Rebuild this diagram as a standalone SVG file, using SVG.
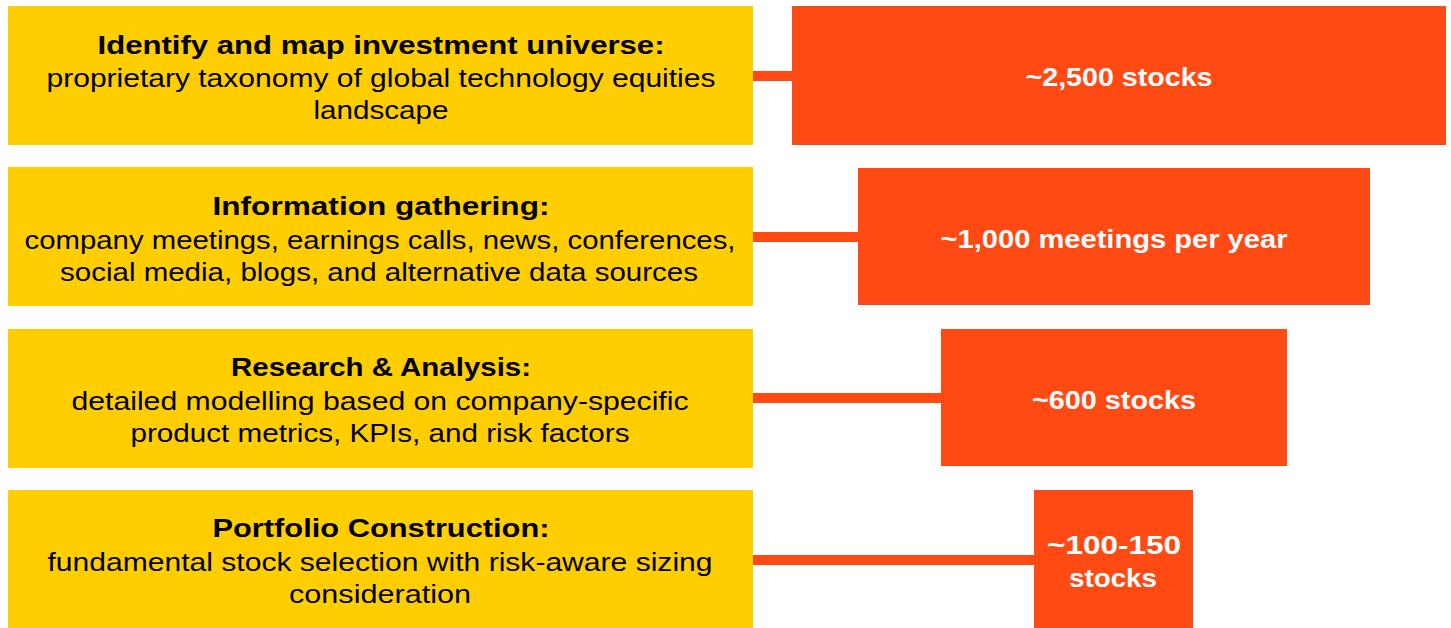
<svg xmlns="http://www.w3.org/2000/svg" width="1451" height="628" viewBox="0 0 1451 628">
  <style>
    .step { fill: #FFCE00; }
    .count { fill: #FF4A14; }
    .link { stroke: #FF4A14; stroke-width: 10; fill: none; }
    .title { font-family: "Liberation Sans", Arial, sans-serif; font-weight: bold; font-size: 26px; fill: #000; text-anchor: middle; }
    .body { font-family: "Liberation Sans", Arial, sans-serif; font-size: 26px; fill: #000; text-anchor: middle; }
    .num { font-family: "Liberation Sans", Arial, sans-serif; font-weight: bold; font-size: 25px; fill: #fff; text-anchor: middle; }
  </style>
  <rect width="1451" height="628" fill="#fff"/>

  <g id="connectors">
    <line class="link" x1="753" y1="76" x2="792" y2="76"/>
    <line class="link" x1="753" y1="237" x2="858" y2="237"/>
    <line class="link" x1="753" y1="398" x2="941" y2="398"/>
    <line class="link" x1="753" y1="560" x2="1034" y2="560"/>
  </g>

  <g id="step-universe">
    <rect class="step" x="8" y="6" width="745" height="139"/>
    <text class="title" x="381" y="54" textLength="567" lengthAdjust="spacingAndGlyphs">Identify and map investment universe:</text>
    <text class="body" x="381" y="87" textLength="669" lengthAdjust="spacingAndGlyphs">proprietary taxonomy of global technology equities</text>
    <text class="body" x="381" y="119" textLength="135" lengthAdjust="spacingAndGlyphs">landscape</text>
  </g>

  <g id="step-information">
    <rect class="step" x="8" y="167" width="745" height="139"/>
    <text class="title" x="381" y="215" textLength="337" lengthAdjust="spacingAndGlyphs">Information gathering:</text>
    <text class="body" x="380" y="249" textLength="711" lengthAdjust="spacingAndGlyphs">company meetings, earnings calls, news, conferences,</text>
    <text class="body" x="379" y="281" textLength="638" lengthAdjust="spacingAndGlyphs">social media, blogs, and alternative data sources</text>
  </g>

  <g id="step-research">
    <rect class="step" x="8" y="329" width="745" height="139"/>
    <text class="title" x="381" y="376" textLength="300" lengthAdjust="spacingAndGlyphs">Research &amp; Analysis:</text>
    <text class="body" x="380" y="410" textLength="617" lengthAdjust="spacingAndGlyphs">detailed modelling based on company-specific</text>
    <text class="body" x="380" y="442" textLength="499" lengthAdjust="spacingAndGlyphs">product metrics, KPIs, and risk factors</text>
  </g>

  <g id="step-portfolio">
    <rect class="step" x="8" y="490" width="745" height="138"/>
    <text class="title" x="381" y="537" textLength="337" lengthAdjust="spacingAndGlyphs">Portfolio Construction:</text>
    <text class="body" x="380" y="571" textLength="665" lengthAdjust="spacingAndGlyphs">fundamental stock selection with risk-aware sizing</text>
    <text class="body" x="380" y="603" textLength="182" lengthAdjust="spacingAndGlyphs">consideration</text>
  </g>

  <g id="count-universe">
    <rect class="count" x="792" y="6" width="654" height="139"/>
    <text class="num" x="1119" y="86" textLength="187" lengthAdjust="spacingAndGlyphs">~2,500 stocks</text>
  </g>

  <g id="count-meetings">
    <rect class="count" x="858" y="168" width="512" height="137"/>
    <text class="num" x="1114" y="248" textLength="347" lengthAdjust="spacingAndGlyphs">~1,000 meetings per year</text>
  </g>

  <g id="count-research">
    <rect class="count" x="941" y="329" width="346" height="137"/>
    <text class="num" x="1114" y="409" textLength="164" lengthAdjust="spacingAndGlyphs">~600 stocks</text>
  </g>

  <g id="count-portfolio">
    <rect class="count" x="1034" y="490" width="159" height="138"/>
    <text class="num" x="1114" y="554" textLength="134" lengthAdjust="spacingAndGlyphs">~100-150</text>
    <text class="num" x="1113" y="587" textLength="88" lengthAdjust="spacingAndGlyphs">stocks</text>
  </g>
</svg>
